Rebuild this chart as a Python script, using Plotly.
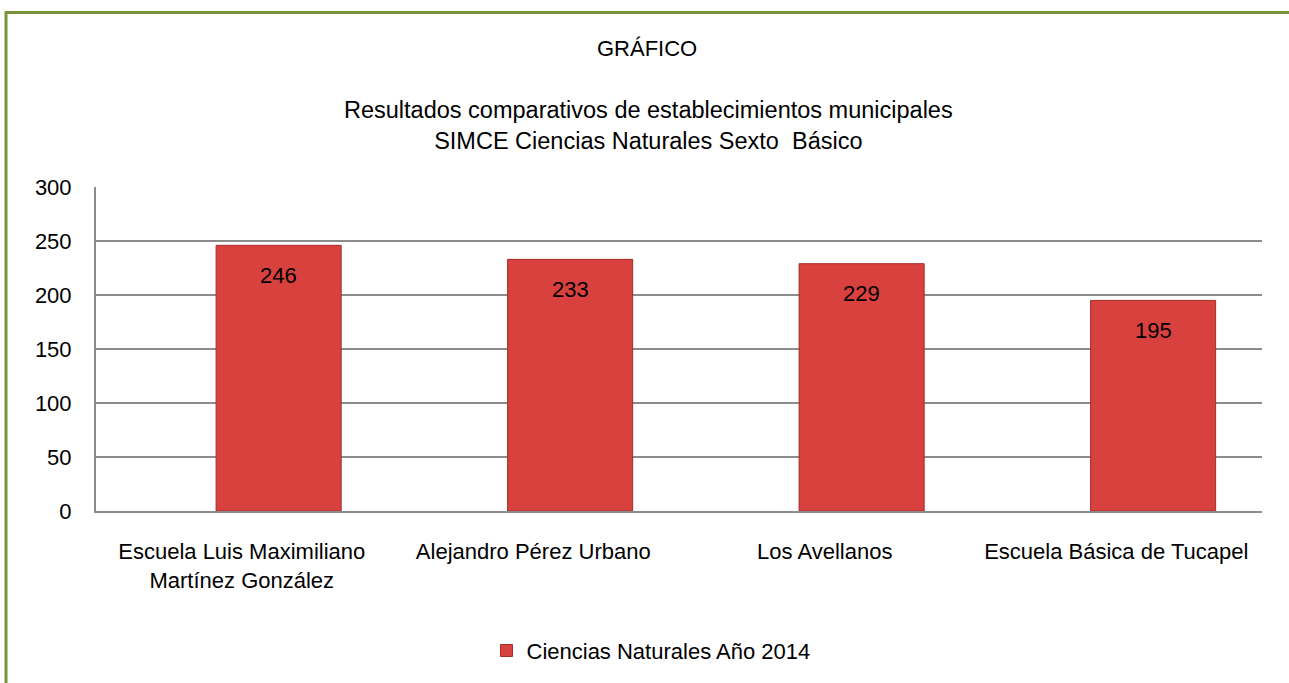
import plotly.graph_objects as go

categories = ["Escuela Luis Maximiliano<br>Martínez González", "Alejandro Pérez Urbano",
              "Los Avellanos", "Escuela Básica de Tucapel"]
values = [246, 233, 229, 195]
series_name = "Ciencias Naturales Año 2014"
title_main = "GRÁFICO"
title_sub = "Resultados comparativos de establecimientos municipales<br>SIMCE Ciencias Naturales Sexto  Básico"

FONT = "Liberation Sans, Arial"
W, H = 1289, 683
L, R, T, B = 96, 27, 187, 169
BAR_W, BAR_OFF = 0.429, -0.088

pw = W - L - R
ph = H - T - B
def px_x(sx):
    return (sx - L) / pw
def px_y(sy):
    return (H - B - sy) / ph

fig = go.Figure()
fig.add_trace(go.Bar(
    x=categories, y=values, name=series_name,
    width=BAR_W, offset=BAR_OFF,
    marker=dict(color="#D8413D", line=dict(color="#A52C29", width=1)),
    showlegend=True,
))

shift_px = (BAR_OFF + BAR_W / 2) * pw / len(categories)
annotations = []
for c, v in zip(categories, values):
    annotations.append(dict(x=c, y=v, xref="x", yref="y", text=str(v), showarrow=False,
                            xshift=shift_px, yanchor="middle", yshift=-30,
                            font=dict(family=FONT, size=22, color="black")))
annotations.append(dict(x=px_x(647), y=px_y(47), xref="paper", yref="paper",
                        text=title_main, showarrow=False, yanchor="middle", xanchor="center",
                        font=dict(family=FONT, size=22, color="black")))
annotations.append(dict(x=px_x(648), y=px_y(125), xref="paper", yref="paper",
                        text=title_sub, showarrow=False, yanchor="middle", xanchor="center",
                        font=dict(family=FONT, size=23.5, color="black")))

shapes = [
    dict(type="line", xref="paper", yref="paper", x0=px_x(5), x1=px_x(1300), y0=px_y(11), y1=px_y(11),
         line=dict(color="#77933C", width=3)),
    dict(type="line", xref="paper", yref="paper", x0=px_x(6), x1=px_x(6), y0=px_y(10), y1=px_y(700),
         line=dict(color="#77933C", width=3)),
]

fig.update_layout(
    width=W, height=H,
    margin=dict(l=L, r=R, t=T, b=B),
    paper_bgcolor="white", plot_bgcolor="white",
    font=dict(family=FONT, size=22, color="black"),
    annotations=annotations,
    shapes=shapes,
    legend=dict(orientation="h", x=px_x(651), xanchor="center", y=px_y(655), yanchor="middle",
                font=dict(family=FONT, size=22, color="black")),
    xaxis=dict(range=[-0.5, len(categories) - 0.5], showline=True, linecolor="#8C8C8C", linewidth=2,
               showgrid=False, tickfont=dict(family=FONT, size=22), ticks="outside", ticklen=20,
               tickcolor="rgba(0,0,0,0)", fixedrange=True),
    yaxis=dict(range=[0, 300], dtick=50, showline=True, linecolor="#8C8C8C", linewidth=2,
               showgrid=True, gridcolor="#8C8C8C", gridwidth=1.5, zeroline=False,
               ticks="outside", ticklen=18, tickcolor="rgba(0,0,0,0)",
               tickfont=dict(family=FONT, size=22)),
)

fig.write_html("out.html", config={"displayModeBar": False},
               post_script="document.body.style.margin='0';document.body.style.overflow='hidden';")
